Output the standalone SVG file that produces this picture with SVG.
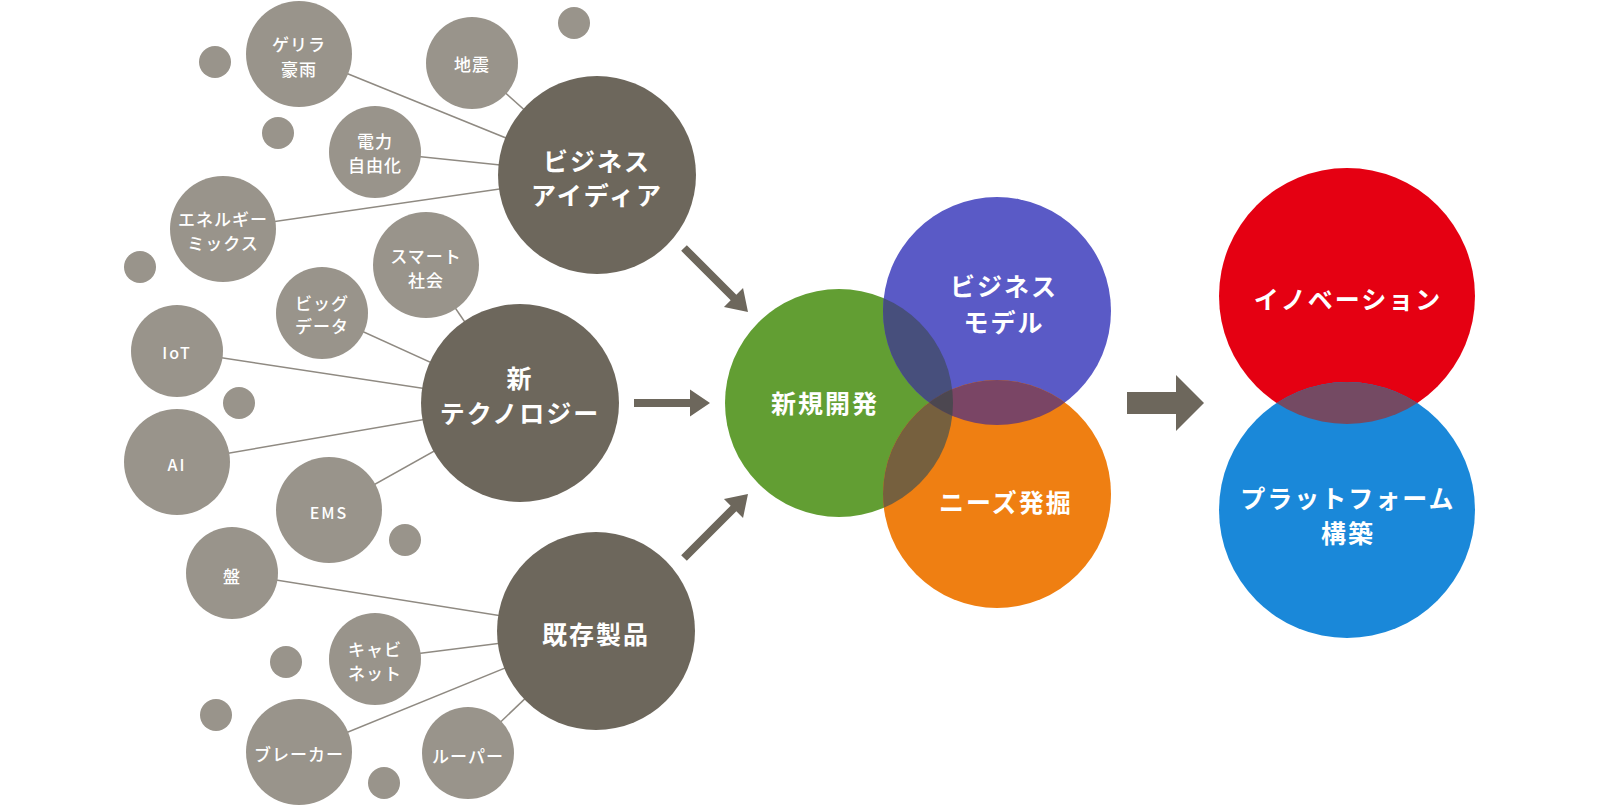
<svg xmlns="http://www.w3.org/2000/svg" width="1600" height="805" viewBox="0 0 1600 805">
<style>
text{font-family:"Noto Sans CJK JP","Noto Sans",sans-serif;fill:#fff;text-anchor:middle;dominant-baseline:central}
.dot{fill:#99948b}
.sm circle{fill:#99948b}
.sm text{font-size:17px;font-weight:500;letter-spacing:1px}
.sm text.lat{font-size:16px;letter-spacing:2px}
.big circle{fill:#6d675c}
.big text{font-size:25px;font-weight:700;letter-spacing:2px}
.v text{font-size:25px;font-weight:700;letter-spacing:2px}
.conn line{stroke:#8f8a82;stroke-width:1.5}
.arr{fill:#6d675c}
</style>
<defs>
<clipPath id="cG"><circle cx="839" cy="403" r="114"/></clipPath>
<clipPath id="cB"><circle cx="997" cy="311" r="114"/></clipPath>
<clipPath id="cO"><circle cx="997" cy="494" r="114"/></clipPath>
<clipPath id="cR"><circle cx="1347" cy="296" r="128"/></clipPath>
<path id="arrow" d="M0,-4 H70 V-13.5 L90.5,0 L70,13.5 V4 H0 Z"/>
</defs>

<g id="connectors" class="conn">
<line x1="299" y1="54" x2="597" y2="175"/>
<line x1="472" y1="63" x2="597" y2="175"/>
<line x1="375" y1="152" x2="597" y2="175"/>
<line x1="223" y1="229" x2="597" y2="175"/>
<line x1="426" y1="265" x2="520" y2="403"/>
<line x1="322" y1="313" x2="520" y2="403"/>
<line x1="177" y1="351" x2="520" y2="403"/>
<line x1="177" y1="462" x2="520" y2="403"/>
<line x1="329" y1="510" x2="520" y2="403"/>
<line x1="232" y1="573" x2="596" y2="631"/>
<line x1="375" y1="659" x2="596" y2="631"/>
<line x1="299" y1="752" x2="596" y2="631"/>
<line x1="468" y1="753" x2="596" y2="631"/>
</g>

<g id="dots">
<circle class="dot" cx="215" cy="62" r="16"/>
<circle class="dot" cx="574" cy="23" r="16"/>
<circle class="dot" cx="278" cy="133" r="16"/>
<circle class="dot" cx="140" cy="267" r="16"/>
<circle class="dot" cx="239" cy="403" r="16"/>
<circle class="dot" cx="405" cy="540" r="16"/>
<circle class="dot" cx="286" cy="662" r="16"/>
<circle class="dot" cx="216" cy="715" r="16"/>
<circle class="dot" cx="384" cy="783" r="16"/>
</g>

<g id="n-guerrilla" class="sm"><circle cx="299" cy="54" r="53"/><text x="299" y="43">ゲリラ</text><text x="299" y="68">豪雨</text></g>
<g id="n-jishin" class="sm"><circle cx="472" cy="63" r="46"/><text x="472" y="63">地震</text></g>
<g id="n-denryoku" class="sm"><circle cx="375" cy="152" r="46"/><text x="375" y="140">電力</text><text x="375" y="164">自由化</text></g>
<g id="n-energy" class="sm"><circle cx="223" cy="229" r="53"/><text x="223" y="218">エネルギー</text><text x="223" y="242">ミックス</text></g>
<g id="n-smart" class="sm"><circle cx="426" cy="265" r="53"/><text x="426" y="255">スマート</text><text x="426" y="279">社会</text></g>
<g id="n-bigdata" class="sm"><circle cx="322" cy="313" r="46"/><text x="322" y="302">ビッグ</text><text x="322" y="325">データ</text></g>
<g id="n-iot" class="sm"><circle cx="177" cy="351" r="46"/><text class="lat" x="177" y="352">IoT</text></g>
<g id="n-ai" class="sm"><circle cx="177" cy="462" r="53"/><text class="lat" x="177" y="464">AI</text></g>
<g id="n-ems" class="sm"><circle cx="329" cy="510" r="53"/><text class="lat" x="329" y="512">EMS</text></g>
<g id="n-ban" class="sm"><circle cx="232" cy="573" r="46"/><text x="232" y="575">盤</text></g>
<g id="n-cabinet" class="sm"><circle cx="375" cy="659" r="46"/><text x="375" y="648">キャビ</text><text x="375" y="672">ネット</text></g>
<g id="n-breaker" class="sm"><circle cx="299" cy="752" r="53"/><text x="299" y="753">ブレーカー</text></g>
<g id="n-looper" class="sm"><circle cx="468" cy="753" r="46"/><text x="468" y="755">ルーパー</text></g>

<g id="n-idea" class="big"><circle cx="597" cy="175" r="99"/><text x="597" y="160">ビジネス</text><text x="597" y="194">アイディア</text></g>
<g id="n-tech" class="big"><circle cx="520" cy="403" r="99"/><text x="520" y="377">新</text><text x="520" y="412">テクノロジー</text></g>
<g id="n-product" class="big"><circle cx="596" cy="631" r="99"/><text x="596" y="633">既存製品</text></g>

<g id="arrows">
<use href="#arrow" class="arr" transform="translate(684,248) rotate(45)"/>
<path class="arr" d="M634,399 H690 V389.5 L710,403 L690,416.5 V407 H634 Z"/>
<use href="#arrow" class="arr" transform="translate(684,558) rotate(-45)"/>
<path class="arr" d="M1127,392 H1176 V375 L1204,403 L1176,431 V414 H1127 Z"/>
</g>

<g id="venn">
<circle cx="839" cy="403" r="114" fill="#629e33"/>
<circle cx="997" cy="311" r="114" fill="#5a5ac6"/>
<circle cx="997" cy="494" r="114" fill="#ef7f12"/>
<circle cx="997" cy="311" r="114" fill="#474f7c" clip-path="url(#cG)"/>
<circle cx="997" cy="494" r="114" fill="#76603e" clip-path="url(#cG)"/>
<circle cx="997" cy="494" r="114" fill="#7a4565" clip-path="url(#cB)"/>
<g clip-path="url(#cG)"><circle cx="997" cy="494" r="114" fill="#4c4750" clip-path="url(#cB)"/></g>
</g>
<g id="n-shinki" class="v"><text x="825" y="402">新規開発</text></g>
<g id="n-bizmodel" class="v"><text x="1004" y="285">ビジネス</text><text x="1004" y="321">モデル</text></g>
<g id="n-needs" class="v"><text x="1006" y="501">ニーズ発掘</text></g>

<g id="result">
<circle cx="1347" cy="296" r="128" fill="#e50012"/>
<circle cx="1347" cy="510" r="128" fill="#1a88d9"/>
<circle cx="1347" cy="510" r="128" fill="#744a63" clip-path="url(#cR)"/>
</g>
<g id="n-innovation" class="v"><text x="1348" y="298">イノベーション</text></g>
<g id="n-platform" class="v"><text x="1348" y="497">プラットフォーム</text><text x="1348" y="532">構築</text></g>
</svg>
